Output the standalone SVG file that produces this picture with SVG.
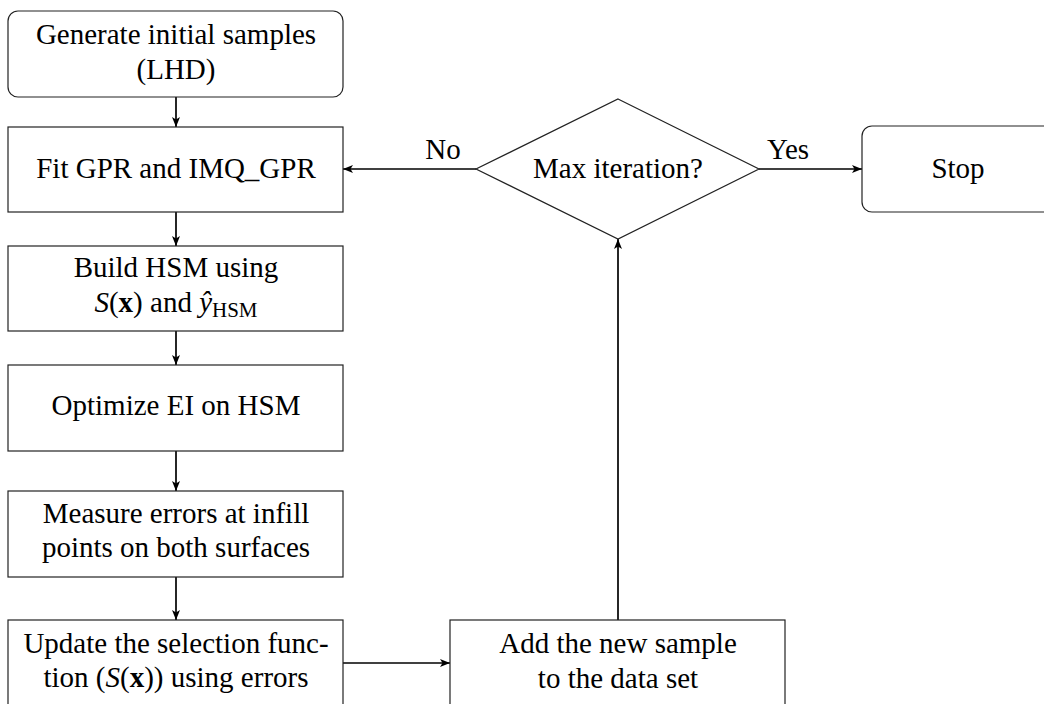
<svg xmlns="http://www.w3.org/2000/svg" width="1044" height="704" viewBox="0 0 1044 704">
<defs>
<style>
.box{fill:#fff;stroke:#222;stroke-width:1.2}
.t{font-family:"Liberation Serif","Times New Roman",serif;font-size:29px;fill:#000;text-anchor:middle}
.c{fill:none;stroke:#000;stroke-width:1.7}
.it{font-style:italic}
.bf{font-weight:bold}
</style>
<marker id="ah" viewBox="0 0 10 8" refX="10" refY="4" markerWidth="10" markerHeight="8" markerUnits="userSpaceOnUse" orient="auto">
<path d="M0,0 L10,4 L0,8 L2.5,4 Z" fill="#000"/>
</marker>
</defs>
<rect width="1044" height="704" fill="#fff"/>
<g id="connectors">
<line class="c" x1="176" y1="97" x2="176" y2="127" marker-end="url(#ah)"/>
<line class="c" x1="176" y1="212" x2="176" y2="246" marker-end="url(#ah)"/>
<line class="c" x1="176" y1="331" x2="176" y2="365" marker-end="url(#ah)"/>
<line class="c" x1="176" y1="451" x2="176" y2="491" marker-end="url(#ah)"/>
<line class="c" x1="176" y1="577" x2="176" y2="620" marker-end="url(#ah)"/>
<line class="c" x1="343" y1="663" x2="450" y2="663" marker-end="url(#ah)"/>
<line class="c" x1="618" y1="620" x2="618" y2="239" marker-end="url(#ah)"/>
<line class="c" x1="476" y1="169" x2="343" y2="169" marker-end="url(#ah)"/>
<line class="c" x1="759" y1="169" x2="862" y2="169" marker-end="url(#ah)"/>
<text class="t" x="443" y="159">No</text>
<text class="t" x="788" y="159">Yes</text>
</g>
<g id="n1">
<rect class="box" x="8" y="11" width="335" height="86" rx="10"/>
<text class="t" x="176" y="44">Generate initial samples</text>
<text class="t" x="176" y="79">(LHD)</text>
</g>
<g id="n2">
<rect class="box" x="8" y="127" width="335" height="85"/>
<text class="t" x="176" y="178">Fit GPR and IMQ_GPR</text>
</g>
<g id="n3">
<rect class="box" x="8" y="246" width="335" height="85"/>
<text class="t" x="176" y="277">Build HSM using</text>
<text class="t" x="176" y="312"><tspan class="it">S</tspan>(<tspan class="bf">x</tspan>) and <tspan class="it">ŷ</tspan><tspan font-size="21" dy="5">HSM</tspan></text>
</g>
<g id="n4">
<rect class="box" x="8" y="365" width="335" height="86"/>
<text class="t" x="176" y="415">Optimize EI on HSM</text>
</g>
<g id="n5">
<rect class="box" x="8" y="491" width="335" height="86"/>
<text class="t" x="176" y="523">Measure errors at infill</text>
<text class="t" x="176" y="557">points on both surfaces</text>
</g>
<g id="n6">
<rect class="box" x="8" y="620" width="335" height="100"/>
<text class="t" x="176" y="653">Update the selection func-</text>
<text class="t" x="176" y="687">tion (<tspan class="it">S</tspan>(<tspan class="bf">x</tspan>)) using errors</text>
</g>
<g id="n7">
<rect class="box" x="450" y="620" width="335" height="100"/>
<text class="t" x="618" y="653">Add the new sample</text>
<text class="t" x="618" y="688">to the data set</text>
</g>
<g id="n8">
<polygon class="box" points="618,99 759,169 618,239 476,169"/>
<text class="t" x="618" y="178">Max iteration?</text>
</g>
<g id="n9">
<rect class="box" x="862" y="126" width="200" height="86" rx="10"/>
<text class="t" x="958" y="178">Stop</text>
</g>
</svg>
